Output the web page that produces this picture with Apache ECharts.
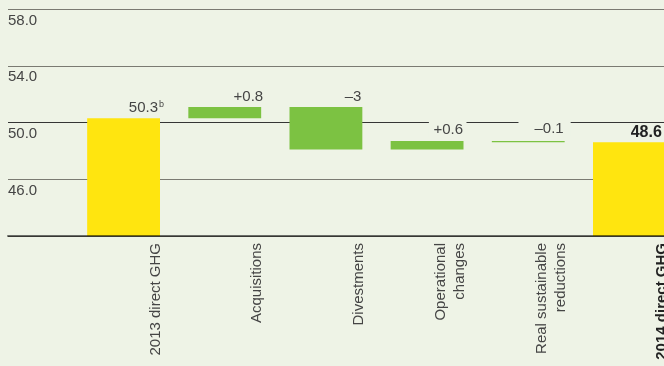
<!DOCTYPE html>
<html>
<head>
<meta charset="utf-8">
<script src="https://cdn.jsdelivr.net/npm/echarts@6/dist/echarts.min.js"></script>
<style>
  html, body { margin: 0; padding: 0; background: #eef3e6; }
  #chart { width: 664px; height: 366px; }
</style>
</head>
<body>
<div id="chart"></div>
<script>
// Direct GHG emissions bridge, 2013 -> 2014
const categories = [
  '2013 direct GHG',
  'Acquisitions',
  'Divestments',
  'Operational\nchanges',
  'Real sustainable\nreductions',
  '2014 direct GHG'
];
const startTotal = 50.3;            // 2013 direct GHG
const changes = [0.8, -3, 0.6, -0.1]; // movements between the two totals
const endTotal = 48.6;              // 2014 direct GHG
const yTicks = [42, 46, 50, 54, 58];
const startNote = 'b';              // footnote marker on the 2013 total

const BG = '#eef3e6';
const YELLOW = '#ffe50f';
const GREEN = '#7cc242';
const TEXT = '#454545';
const FONT = '"Liberation Sans", Arial, Helvetica, sans-serif';

// Waterfall: invisible base + visible segment, stacked
const baseVals = [0];
const segVals = [startTotal];
let running = startTotal;
changes.forEach(function (c) {
  baseVals.push(c > 0 ? running : running + c);
  segVals.push(Math.abs(c));
  running += c;
});
baseVals.push(0);
segVals.push(endTotal);

function fmtChange(c) {
  return (c > 0 ? '+' : '\u2013') + String(Math.abs(c));
}

// label placement per bar (kept apart from the values)
const labelLook = [
  { offset: [4, -3] },
  { offset: [2, -3] },
  { offset: [-1, -3] },
  { offset: [3, -4], padding: [2, 3.5, 0, 4.5], backgroundColor: BG },
  { offset: [6, -5], padding: [2, 7, 0, 16], backgroundColor: BG },
  { offset: [-4, -2], fontWeight: 'bold', fontSize: 16, color: '#222' }
];

const segData = segVals.map(function (v, i) {
  const isTotal = (i === 0 || i === segVals.length - 1);
  let text;
  if (i === 0) text = '{v|' + startTotal.toFixed(1) + '}{s|' + startNote + '}';
  else if (isTotal) text = endTotal.toFixed(1);
  else text = fmtChange(changes[i - 1]);
  const look = labelLook[i];
  return {
    value: v,
    itemStyle: { color: isTotal ? YELLOW : GREEN },
    label: Object.assign({
      show: true,
      position: ['100%', 0],
      align: 'right',
      verticalAlign: 'bottom',
      fontFamily: FONT,
      fontSize: 15,
      color: TEXT,
      formatter: text,
      rich: {
        v: { fontFamily: FONT, fontSize: 15, color: TEXT, lineHeight: 15 },
        s: { fontFamily: FONT, fontSize: 9, color: TEXT, lineHeight: 10, verticalAlign: 'top', padding: [0, 0, 0, 1] }
      }
    }, look)
  };
});

const gridTop = 9, gridBottom = 130;
const yMin = yTicks[0], yMax = yTicks[yTicks.length - 1], yStep = yTicks[1] - yTicks[0];

const gridBase = { top: gridTop, bottom: gridBottom, containLabel: false, outerBoundsMode: 'none' };

const chart = echarts.init(document.getElementById('chart'), null, { renderer: 'canvas' });
chart.setOption({
  backgroundColor: BG,
  animation: false,
  textStyle: { fontFamily: FONT },
  grid: [
    Object.assign({ left: 8, right: 0 }, gridBase),
    Object.assign({ left: 73, width: 607 }, gridBase)
  ],
  xAxis: [
    {
      gridIndex: 0, type: 'value', min: 0, max: 1, z: 10,
      axisLine: { show: true, lineStyle: { color: 'rgba(0,0,0,0.55)', width: 2 } },
      axisTick: { show: false }, axisLabel: { show: false }, splitLine: { show: false }
    },
    {
      gridIndex: 1, type: 'category', data: categories,
      axisLine: { show: false }, axisTick: { show: false },
      axisLabel: {
        interval: 0, rotate: 90, align: 'right', verticalAlign: 'top',
        hideOverlap: false, padding: [4, 0, 0, 0],
        margin: 7, fontFamily: FONT, fontSize: 15, lineHeight: 19, color: TEXT,
        // every name takes two lines so the last line sits at the bar's right edge;
        // the closing total is set in bold
        formatter: function (v, idx) {
          const two = v.indexOf('\n') < 0 ? '\n' + v : v;
          if (idx === categories.length - 1) {
            return two.split('\n').map(function (l) { return l ? '{b|' + l + '}' : ''; }).join('\n');
          }
          return two;
        },
        rich: {
          b: { fontFamily: FONT, fontSize: 15, lineHeight: 19, fontWeight: 'bold', color: '#222' }
        }
      }
    }
  ],
  yAxis: [
    {
      gridIndex: 0, type: 'value', min: yMin, max: yMax, interval: yStep,
      axisLine: { show: false }, axisTick: { show: false },
      splitLine: { show: true, lineStyle: { color: ['#7a7a72', '#7a7a72', '#353535', '#7a7a72', '#7a7a72'], width: 1 } },
      axisLabel: {
        inside: true, margin: 0, showMinLabel: false,
        verticalAlign: 'top', padding: [4, 0, 0, 0],
        fontFamily: FONT, fontSize: 15, color: TEXT,
        formatter: function (v) { return v.toFixed(1); }
      }
    },
    { gridIndex: 1, type: 'value', min: yMin, max: yMax, show: false }
  ],
  series: [
    {
      type: 'bar', name: 'base', stack: 'w', xAxisIndex: 1, yAxisIndex: 1,
      barWidth: '72%', silent: true,
      itemStyle: { color: 'transparent' },
      emphasis: { disabled: true },
      data: baseVals
    },
    {
      type: 'bar', name: 'GHG', stack: 'w', xAxisIndex: 1, yAxisIndex: 1,
      barWidth: '72%',
      emphasis: { disabled: true },
      data: segData
    }
  ]
});
</script>
</body>
</html>
